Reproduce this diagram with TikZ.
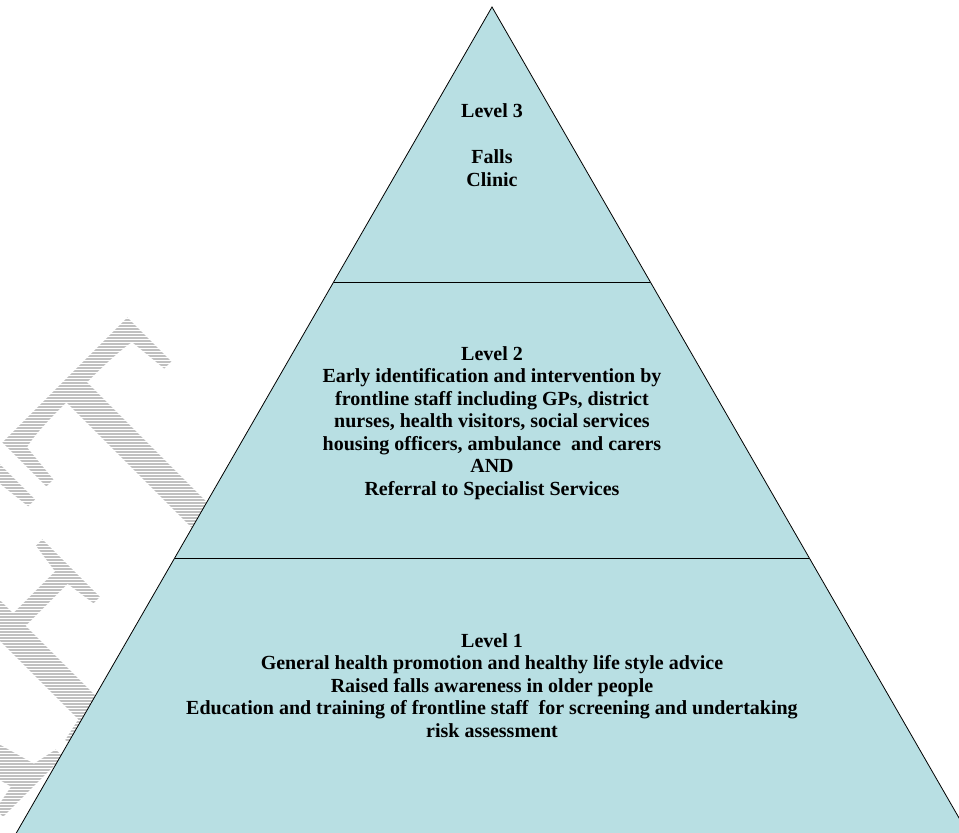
\documentclass[tikz,border=0pt]{standalone}
\usepackage{fontspec}
\setmainfont{Liberation Serif}
\usetikzlibrary{calc}

\definecolor{pyramidFill}{RGB}{184,223,227}
\definecolor{watermarkGrey}{RGB}{192,192,192}

\begin{document}
\begin{tikzpicture}[x=1pt, y=-1pt,
	levelText/.style={align=center, inner sep=0pt, font=\bfseries\fontsize{20}{22.5}\selectfont}]

	% frame
	\useasboundingbox (0,0) rectangle (959,833);
	\clip (0,0) rectangle (959,833);

	% watermark
	\def \markSize {307};
	\node [rotate=45, yscale=1.32, anchor=base east, inner sep=0pt, outer sep=0pt, text=watermarkGrey, font=\fontsize{\markSize}{\markSize}\selectfont] (draftMark) at (319,502) {DRAFT};

	% hatching across the watermark
	\foreach \hatchY in {0.5,3.5,...,833}
		\draw [white, line width=0.8pt] (0,\hatchY) -- (340,\hatchY);

	% pyramid corners
	\coordinate (apex) at (492,7);
	\coordinate (baseLeft) at (-5,870);
	\coordinate (baseRight) at (989,870);
	\filldraw [fill=pyramidFill, draw=black, line width=0.8pt] (apex) -- (baseLeft) -- (baseRight) -- cycle;

	% tier separators
	\def \upperCut {0.3187};
	\def \lowerCut {0.6385};
	\coordinate (upperLeft) at ($(apex)!\upperCut!(baseLeft)$);
	\coordinate (upperRight) at ($(apex)!\upperCut!(baseRight)$);
	\coordinate (lowerLeft) at ($(apex)!\lowerCut!(baseLeft)$);
	\coordinate (lowerRight) at ($(apex)!\lowerCut!(baseRight)$);
	\draw [line width=0.8pt] (upperLeft) -- (upperRight);
	\draw [line width=0.8pt] (lowerLeft) -- (lowerRight);

	% level texts
	\node [levelText, anchor=north] (levelThree) at (492,103) {Level 3\\[24pt]Falls\\Clinic};
	\node [levelText, anchor=north] (levelTwo) at (492,346) {Level 2\\Early identification and intervention by\\frontline staff including GPs, district\\nurses, health visitors, social services\\housing officers, ambulance~ and carers\\AND\\Referral to Specialist Services};
	\node [levelText, anchor=north] (levelOne) at (492,633) {Level 1\\General health promotion and healthy life style advice\\Raised falls awareness in older people\\Education and training of frontline staff~ for screening and undertaking\\risk assessment};

\end{tikzpicture}
\end{document}
